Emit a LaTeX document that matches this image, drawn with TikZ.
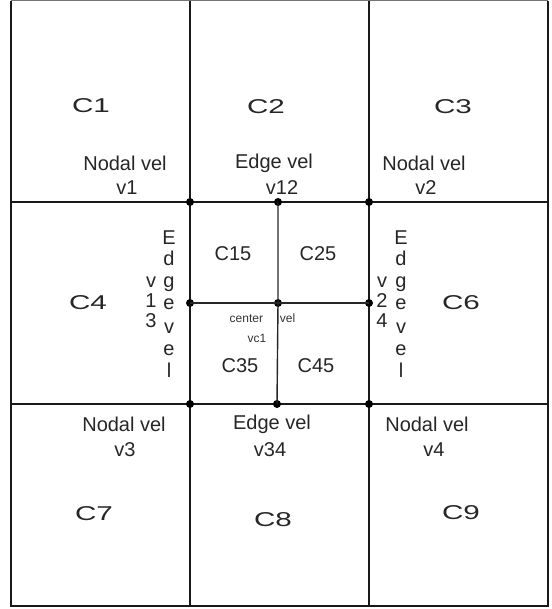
\documentclass[tikz,border=0pt]{standalone}
\usepackage{fontspec}
\setmainfont{Liberation Sans}
\begin{document}
\begin{tikzpicture}[x=1pt,y=-1pt,
  lbl/.style={font=\fontsize{20}{24}\selectfont, inner sep=0pt, text=black!85},
  biglbl/.style={font=\fontsize{20}{24}\selectfont, inner sep=0pt, text=black!85},
  small/.style={font=\fontsize{12}{14}\selectfont, inner sep=0pt, text=black!80},
  letter/.style={font=\fontsize{20}{24}\selectfont, inner sep=0pt, anchor=base, text=black!85},
  dot/.style={circle, fill=black, inner sep=0pt, minimum size=8pt},
  mainline/.style={line width=2pt, black!90},
  thinline/.style={line width=1.4pt, black!85},
  border/.style={line width=2pt, black!90}]
\useasboundingbox (0,0) rectangle (551,609);
% outer frame
\coordinate (TL) at (11,1);
\coordinate (TR) at (548,1);
\coordinate (BL) at (11,606);
\coordinate (BR) at (548,606);
\draw[line width=1pt, black!55] (TL) -- (TR);
\draw[border] (TR) -- (BR) -- (BL) -- (TL);
% main grid line ends
\coordinate (xa top) at (190,1);
\coordinate (xa bot) at (190,606);
\coordinate (xb top) at (369,1);
\coordinate (xb bot) at (369,606);
\coordinate (ya left) at (11,202);
\coordinate (ya right) at (548,202);
\coordinate (yb left) at (11,404);
\coordinate (yb right) at (548,404);
\draw[mainline] (xa top) -- (xa bot);
\draw[mainline] (xb top) -- (xb bot);
\draw[mainline] (ya left) -- (ya right);
\draw[mainline] (yb left) -- (yb right);
% dots
\node[dot] (n1) at (190,202) {};
\node[dot] (n12) at (278,202) {};
\node[dot] (n2) at (369,202) {};
\node[dot] (n13) at (190,303) {};
\node[dot] (nc) at (278,303) {};
\node[dot] (n24) at (369,303) {};
\node[dot] (n3) at (190,404) {};
\node[dot] (n34) at (277,404) {};
\node[dot] (n4) at (369,404) {};
\draw[thinline] (n12.center) -- (nc.center) -- (n34.center);
\draw[thinline] (n13.center) -- (nc.center) -- (n24.center);
% cell labels
\node[biglbl] (c1) at (91,106) {\scalebox{1.48}[1]{C1}};
\node[biglbl] (c2) at (266,107) {\scalebox{1.48}[1]{C2}};
\node[biglbl] (c3) at (453,107) {\scalebox{1.48}[1]{C3}};
\node[biglbl] (c4) at (88,303) {\scalebox{1.48}[1]{C4}};
\node[biglbl] (c6) at (461,303) {\scalebox{1.48}[1]{C6}};
\node[biglbl] (c7) at (94,514) {\scalebox{1.48}[1]{C7}};
\node[biglbl] (c8) at (273,520) {\scalebox{1.48}[1]{C8}};
\node[biglbl] (c9) at (461,513) {\scalebox{1.48}[1]{C9}};
% velocity labels top
\node[lbl] (nv1) at (125,163) {Nodal vel};
\node[lbl] (v1) at (127,188) {v1};
\node[lbl] (ev12) at (274,163) {Edge vel};
\node[lbl] (v12) at (282,188) {v12};
\node[lbl] (nv2) at (424,163) {Nodal vel};
\node[lbl] (v2) at (426,188) {v2};
% velocity labels bottom
\node[lbl] (nv3) at (124,424) {Nodal vel};
\node[lbl] (v3) at (125,450) {v3};
\node[lbl] (ev34) at (272,424) {Edge vel};
\node[lbl] (v34) at (270,450) {v34};
\node[lbl] (nv4) at (427,424) {Nodal vel};
\node[lbl] (v4) at (434,450) {v4};
% inner cells
\node[lbl] (c15) at (233,254) {C15};
\node[lbl] (c25) at (318,254) {C25};
\node[lbl] (c35) at (240,366) {C35};
\node[lbl] (c45) at (316,366) {C45};
\node[small] (cv) at (262.5,318) {center\hspace{17pt}vel};
\node[small] (vc1) at (257,338) {vc1};
% vertical edge labels
\foreach \ch [count=\i] in {E,d,g,e,v,e,l} {
  \pgfmathsetmacro{\yy}{244+21.7*(\i-1)+(\i>4)*3}
  \node[letter] (le\i) at (169,\yy) {\ch};
  \node[letter] (re\i) at (401,\yy) {\ch};
}
\node[letter] (lv) at (151,287) {v};
\node[letter] (l1) at (151,307) {1};
\node[letter] (l3) at (151,327) {3};
\node[letter] (rv) at (382,287) {v};
\node[letter] (r2) at (382,307) {2};
\node[letter] (r4) at (382,327) {4};
\end{tikzpicture}
\end{document}
